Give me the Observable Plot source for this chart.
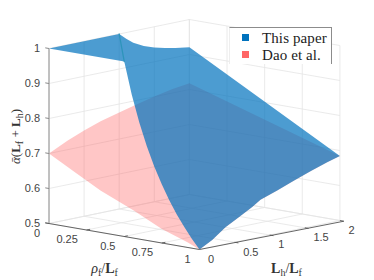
<!DOCTYPE html>
<html>
<head>
<meta charset="utf-8">
<script src="https://cdn.jsdelivr.net/npm/d3@7"></script>
<script src="https://cdn.jsdelivr.net/npm/@observablehq/plot@0.6"></script>
<style>
html,body{margin:0;padding:0;background:#fff;overflow:hidden}
#wrap{position:relative;width:374px;height:280px}
#legend{position:absolute;left:229px;top:27px;width:101px;height:36px;background:#fff;border-top:1px solid #8c8c8c;border-right:1px solid #8c8c8c;border-left:1px solid #eeeeee;font-family:"Liberation Serif",serif;font-size:15px;color:#222}
#legend .row{position:absolute;left:0;white-space:nowrap;line-height:16px}
#legend i{position:absolute;left:12px;top:4px;width:7px;height:7px}
#legend span{position:absolute;left:32px;top:0;letter-spacing:.1px}
</style>
</head>
<body>
<div id="wrap">
<div id="legend"></div>
</div>
<script>
// Tick values
const rhoTicks = [0, 0.25, 0.5, 0.75, 1];
const rhoLabels = ["0", "0.25", "0.5", "0.75", "1"];
const hTicks = [0, 0.5, 1, 1.5, 2];
const hLabels = ["0", "0.5", "1", "1.5", "2"];
const zTicks = [0.5, 0.6, 0.7, 0.8, 0.9, 1];
const zLabels = ["0.5", "0.6", "0.7", "0.8", "0.9", "1"];

// This paper: surface boundary (rho, Lh, value)
const blueBackH = [0, 1, 1.1, 1.2, 1.35, 1.5, 1.65, 1.8, 2];
const blueBackZ = [1, 1, 0.982, 0.967, 0.951, 0.941, 0.933, 0.927, 0.921];
const sideRho = [0, 1];
const blueSideZ = [0.921, 0.684];
const frontH = [2, 1.819, 1.581, 1.343, 1.107, 0.869, 0.751, 0.56, 0.37, 0.181, 0];
const frontZ = [0.684, 0.674, 0.658, 0.641, 0.623, 0.606, 0.59, 0.569, 0.548, 0.52, 0.5];
const blueLeftRho = [1, 0.95, 0.9, 0.85, 0.8, 0.75, 0.7, 0.65, 0.6, 0.55, 0.5, 0];
const blueLeftZ = [0.5, 0.526, 0.556, 0.588, 0.625, 0.667, 0.714, 0.769, 0.833, 0.909, 1, 1];

// Dao et al.: surface boundary
const pinkBackH = [0, 0.267, 0.5, 0.736, 1, 1.214, 1.5, 1.75, 2];
const pinkBackZ = [0.7, 0.726, 0.745, 0.762, 0.776, 0.787, 0.801, 0.811, 0.818];
const pinkSideZ = [0.818, 0.684];
const pinkLeftRho = [1, 0.92, 0.75, 0.563, 0.342, 0.17, 0];
const pinkLeftZ = [0.5, 0.515, 0.54, 0.579, 0.62, 0.66, 0.7];

// Fold of the first surface
const foldRho = [0, 0.5];
const foldH = [1, 0];
const foldZ = [1, 1];

const legendNames = ["This paper", "Dao et al."];
const legendColors = ["#0072BD", "#FF6666"];

// Orthographic view of the 3D box
const view = {x0: 48.5, y0: 223, rx: 150.5, ry: 26, hx: 70.2, hy: -14.5, zs: 350};
const px = (r, h) => view.x0 + view.rx * r + view.hx * h;
const py = (r, h, z) => view.y0 + view.ry * r + view.hy * h - view.zs * (z - 0.5);
const P = (r, h, z) => ({x: px(r, h), y: py(r, h, z)});

const bluePts = [
  ...blueBackH.map((h, i) => P(0, h, blueBackZ[i])),
  ...sideRho.map((r, i) => P(r, 2, blueSideZ[i])),
  ...frontH.map((h, i) => P(1, h, frontZ[i])),
  ...blueLeftRho.map((r, i) => P(r, 0, blueLeftZ[i]))
];
const pinkPts = [
  ...pinkBackH.map((h, i) => P(0, h, pinkBackZ[i])),
  ...sideRho.map((r, i) => P(r, 2, pinkSideZ[i])),
  ...frontH.map((h, i) => P(1, h, frontZ[i])),
  ...pinkLeftRho.map((r, i) => P(r, 0, pinkLeftZ[i]))
];
const foldPts = foldRho.map((r, i) => P(r, foldH[i], foldZ[i]));

const seg = (a, b) => ({x1: a.x, y1: a.y, x2: b.x, y2: b.y});
const grid = [
  ...zTicks.map(z => seg(P(0, 0, z), P(0, 2, z))),
  ...zTicks.map(z => seg(P(0, 2, z), P(1, 2, z))),
  ...hTicks.map(h => seg(P(0, h, 0.5), P(0, h, 1))),
  ...rhoTicks.map(r => seg(P(r, 2, 0.5), P(r, 2, 1))),
  ...hTicks.map(h => seg(P(0, h, 0.5), P(1, h, 0.5))),
  ...rhoTicks.map(r => seg(P(r, 0, 0.5), P(r, 2, 0.5)))
];
const frontAxes = [
  seg(P(0, 0, 0.5), P(1, 0, 0.5)),
  seg(P(1, 0, 0.5), P(1.027, 2, 0.5)),
  ...rhoTicks.slice(1, -1).map(r => seg(P(r, 0, 0.5), P(r, 0.05, 0.5))),
  ...hTicks.slice(1).map(h => seg(P(1, h, 0.5), P(1.025, h, 0.5))),
  seg(P(0, 0, 0.5), P(-0.025, 0, 0.5))
];
const zAxis = [
  seg(P(0, 0, 0.5), P(0, 0, 1)),
  ...zTicks.map(z => seg(P(0, 0, z), P(-0.025, 0, z)))
];

const tickFont = {fontFamily: '"Liberation Sans",Arial,sans-serif', fontSize: 11, fill: "#444"};
const chart = Plot.plot({
  width: 374, height: 280, margin: 0,
  style: {background: "transparent", overflow: "visible"},
  x: {type: "linear", domain: [0, 374], range: [0, 374], axis: null},
  y: {type: "linear", domain: [0, 280], range: [0, 280], axis: null},
  marks: [
    Plot.link(grid, {x1: "x1", y1: "y1", x2: "x2", y2: "y2", stroke: "#e4e4e4", strokeWidth: 0.8}),
    Plot.line(pinkPts, {x: "x", y: "y", curve: "linear-closed", stroke: "none", fill: "#FF6464", fillOpacity: 0.37}),
    Plot.line(bluePts, {x: "x", y: "y", curve: "linear-closed", stroke: "none", fill: "#0072BD", fillOpacity: 0.7}),
    Plot.line(foldPts, {x: "x", y: "y", stroke: "#2a93b8", strokeWidth: 1.3, strokeOpacity: 0.9}),
    Plot.link(zAxis, {x1: "x1", y1: "y1", x2: "x2", y2: "y2", stroke: "#8c8c8c", strokeWidth: 1}),
    Plot.link(frontAxes, {x1: "x1", y1: "y1", x2: "x2", y2: "y2", stroke: "#555", strokeWidth: 0.9}),
    Plot.text(zTicks, {x: z => px(0, 0), y: z => py(0, 0, z), text: (z, i) => zLabels[i], textAnchor: "end", dx: -9, ...tickFont}),
    Plot.text(rhoTicks, {x: r => px(r, 0), y: r => py(r, 0, 0.5), text: (r, i) => rhoLabels[i], textAnchor: "end", dx: -8.8, dy: 9.8, ...tickFont}),
    Plot.text(hTicks, {x: h => px(1, h), y: h => py(1, h, 0.5), text: (h, i) => hLabels[i], textAnchor: "start", dx: 8.6, dy: 9.8, ...tickFont}),
    Plot.text(["rho"], {x: [104], y: [268.5], text: ["rhoLabel"], className: "lab-rho", fontFamily: '"Liberation Serif",serif', fontSize: 14, fill: "#333", textAnchor: "middle"}),
    Plot.text(["h"], {x: [286], y: [268], text: ["hLabel"], className: "lab-h", fontFamily: '"Liberation Serif",serif', fontSize: 14, fill: "#333", textAnchor: "middle"}),
    Plot.text(["z"], {x: [15], y: [136], text: ["zLabel"], rotate: -90, className: "lab-z", fontFamily: '"Liberation Serif",serif', fontSize: 13, fill: "#333", textAnchor: "middle"})
  ]
});
d3.select("#wrap").insert(() => chart, "#legend");

// Labels with bold symbols and subscripts as real text
function rich(cls, parts) {
  const t = d3.select(chart).select("." + cls + " text");
  t.text(null);
  parts.forEach(([s, k]) => {
    const sp = t.append("tspan").text(s);
    if (k.includes("b")) sp.attr("font-weight", "bold");
    if (k.includes("i")) sp.attr("font-style", "italic");
    if (k.includes("s")) sp.attr("font-size", 10).attr("dy", 3);
    if (k.includes("u")) sp.attr("dy", -3);
  });
}
rich("lab-rho", [["ρ", "i"], ["f", "s"], ["/", "u"], ["L", "b"], ["f", "s"]]);
rich("lab-h", [["L", "b"], ["h", "s"], ["/", "u"], ["L", "b"], ["f", "s"]]);
rich("lab-z", [["ᾱ", "i"], ["(", ""], ["L", "b"], ["f", "s"], [" + ", "u"], ["L", "b"], ["h", "s"], [")", "u"]]);

// Legend
const lg = d3.select("#legend");
legendNames.forEach((n, i) => {
  const row = lg.append("div").attr("class", "row").style("top", (2 + i * 17) + "px").style("height", "16px").style("width", "100%");
  row.append("i").style("background", legendColors[i]);
  row.append("span").text(n);
});
</script>
</body>
</html>
